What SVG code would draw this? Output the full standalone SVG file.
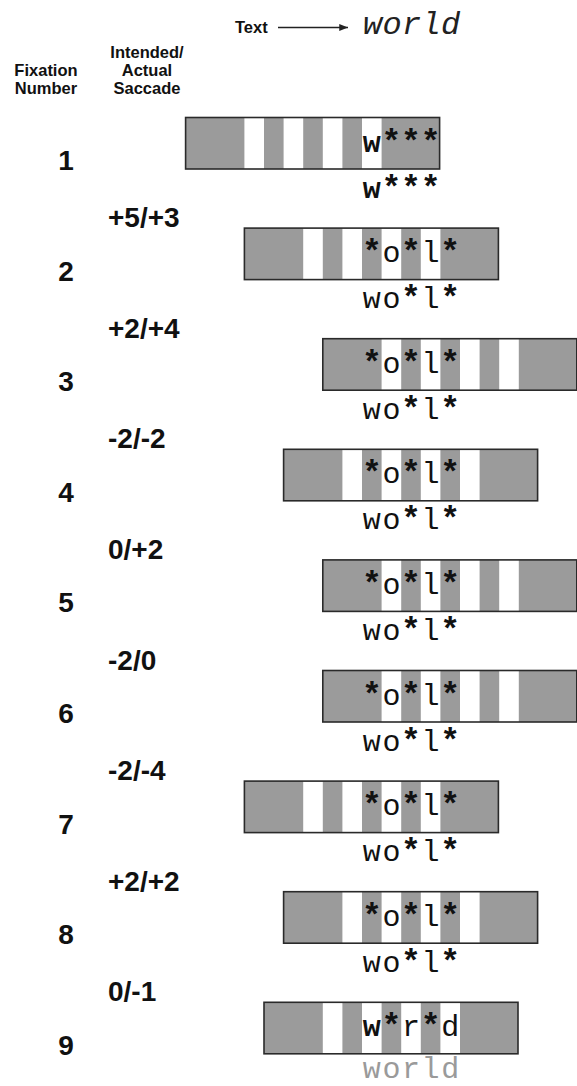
<svg xmlns="http://www.w3.org/2000/svg" xmlns:xlink="http://www.w3.org/1999/xlink" width="577" height="1086" viewBox="0 0 577 1086">
<style>
.h{font-family:"Liberation Sans",Arial,Helvetica,sans-serif;font-weight:bold;fill:#111}
.col{font-size:16.5px;text-anchor:middle}
.num{font-size:28px;text-anchor:middle}
.sac{font-size:28px}
.m{font-family:"Liberation Mono","Courier New",monospace;font-size:30px;fill:#111;text-anchor:middle}
.a{font-weight:bold;font-size:33px}
.b{font-weight:bold}
.gray{fill:#9a9a9a}
</style>
<defs>
<g id="panel">
<rect width="254" height="51.5" fill="#9b9b9b"/>
<rect x="58.8" width="19.6" height="51.5" fill="#fff"/>
<rect x="98" width="19.6" height="51.5" fill="#fff"/>
<rect x="137.2" width="19.6" height="51.5" fill="#fff"/>
<rect x="176.4" width="19.6" height="51.5" fill="#fff"/>
<rect width="254" height="51.5" fill="none" stroke="#2a2a2a" stroke-width="1.6"/>
</g>
<marker id="arr" viewBox="0 0 10 8" refX="10" refY="4" markerWidth="9" markerHeight="7" markerUnits="userSpaceOnUse" orient="auto">
<path d="M0,0 L10,4 L0,8 z" fill="#222"/>
</marker>
</defs>

<g id="header">
<text class="h" x="235" y="33" font-size="16.5">Text</text>
<text x="0" y="33.5" font-family="'Liberation Mono','Courier New',monospace" font-style="italic" font-size="32" fill="#222" text-anchor="middle"><tspan x="372.5">w</tspan><tspan x="392">o</tspan><tspan x="411.5">r</tspan><tspan x="431">l</tspan><tspan x="450.5">d</tspan></text>
</g>

<g id="connectors">
<line x1="278" y1="27.5" x2="348" y2="27.5" stroke="#222" stroke-width="1.3" marker-end="url(#arr)"/>
</g>

<g id="column-labels">
<text class="h col" x="46" y="76">Fixation</text>
<text class="h col" x="46" y="93.5">Number</text>
<text class="h col" x="147" y="57.5">Intended/</text>
<text class="h col" x="147" y="76">Actual</text>
<text class="h col" x="147" y="93.5">Saccade</text>
</g>

<g id="fixation-1" transform="translate(0,117.5)">
<use xlink:href="#panel" href="#panel" x="185.6"/>
<text class="m" y="34"><tspan x="371.8" class="b">w</tspan><tspan x="391.4" class="a">*</tspan><tspan x="411" class="a">*</tspan><tspan x="430.6" class="a">*</tspan></text>
<text class="m" y="80"><tspan x="371.8" class="b">w</tspan><tspan x="391.4" class="a">*</tspan><tspan x="411" class="a">*</tspan><tspan x="430.6" class="a">*</tspan></text>
<text class="h num" x="66" y="52.5">1</text>
</g>

<g id="fixation-2" transform="translate(0,228.1)">
<use xlink:href="#panel" href="#panel" x="244.4"/>
<text class="m" y="34"><tspan x="371.8" class="a">*</tspan><tspan x="391.4">o</tspan><tspan x="411" class="a">*</tspan><tspan x="430.6">l</tspan><tspan x="450.2" class="a">*</tspan></text>
<text class="m" y="80"><tspan x="371.8">w</tspan><tspan x="391.4">o</tspan><tspan x="411" class="a">*</tspan><tspan x="430.6">l</tspan><tspan x="450.2" class="a">*</tspan></text>
<text class="h num" x="66" y="52.5">2</text>
</g>

<g id="fixation-3" transform="translate(0,338.7)">
<use xlink:href="#panel" href="#panel" x="322.8"/>
<text class="m" y="34"><tspan x="371.8" class="a">*</tspan><tspan x="391.4">o</tspan><tspan x="411" class="a">*</tspan><tspan x="430.6">l</tspan><tspan x="450.2" class="a">*</tspan></text>
<text class="m" y="80"><tspan x="371.8">w</tspan><tspan x="391.4">o</tspan><tspan x="411" class="a">*</tspan><tspan x="430.6">l</tspan><tspan x="450.2" class="a">*</tspan></text>
<text class="h num" x="66" y="52.5">3</text>
</g>

<g id="fixation-4" transform="translate(0,449.3)">
<use xlink:href="#panel" href="#panel" x="283.6"/>
<text class="m" y="34"><tspan x="371.8" class="a">*</tspan><tspan x="391.4">o</tspan><tspan x="411" class="a">*</tspan><tspan x="430.6">l</tspan><tspan x="450.2" class="a">*</tspan></text>
<text class="m" y="80"><tspan x="371.8">w</tspan><tspan x="391.4">o</tspan><tspan x="411" class="a">*</tspan><tspan x="430.6">l</tspan><tspan x="450.2" class="a">*</tspan></text>
<text class="h num" x="66" y="52.5">4</text>
</g>

<g id="fixation-5" transform="translate(0,559.9)">
<use xlink:href="#panel" href="#panel" x="322.8"/>
<text class="m" y="34"><tspan x="371.8" class="a">*</tspan><tspan x="391.4">o</tspan><tspan x="411" class="a">*</tspan><tspan x="430.6">l</tspan><tspan x="450.2" class="a">*</tspan></text>
<text class="m" y="80"><tspan x="371.8">w</tspan><tspan x="391.4">o</tspan><tspan x="411" class="a">*</tspan><tspan x="430.6">l</tspan><tspan x="450.2" class="a">*</tspan></text>
<text class="h num" x="66" y="52.5">5</text>
</g>

<g id="fixation-6" transform="translate(0,670.5)">
<use xlink:href="#panel" href="#panel" x="322.8"/>
<text class="m" y="34"><tspan x="371.8" class="a">*</tspan><tspan x="391.4">o</tspan><tspan x="411" class="a">*</tspan><tspan x="430.6">l</tspan><tspan x="450.2" class="a">*</tspan></text>
<text class="m" y="80"><tspan x="371.8">w</tspan><tspan x="391.4">o</tspan><tspan x="411" class="a">*</tspan><tspan x="430.6">l</tspan><tspan x="450.2" class="a">*</tspan></text>
<text class="h num" x="66" y="52.5">6</text>
</g>

<g id="fixation-7" transform="translate(0,781.1)">
<use xlink:href="#panel" href="#panel" x="244.4"/>
<text class="m" y="34"><tspan x="371.8" class="a">*</tspan><tspan x="391.4">o</tspan><tspan x="411" class="a">*</tspan><tspan x="430.6">l</tspan><tspan x="450.2" class="a">*</tspan></text>
<text class="m" y="80"><tspan x="371.8">w</tspan><tspan x="391.4">o</tspan><tspan x="411" class="a">*</tspan><tspan x="430.6">l</tspan><tspan x="450.2" class="a">*</tspan></text>
<text class="h num" x="66" y="52.5">7</text>
</g>

<g id="fixation-8" transform="translate(0,891.7)">
<use xlink:href="#panel" href="#panel" x="283.6"/>
<text class="m" y="34"><tspan x="371.8" class="a">*</tspan><tspan x="391.4">o</tspan><tspan x="411" class="a">*</tspan><tspan x="430.6">l</tspan><tspan x="450.2" class="a">*</tspan></text>
<text class="m" y="80"><tspan x="371.8">w</tspan><tspan x="391.4">o</tspan><tspan x="411" class="a">*</tspan><tspan x="430.6">l</tspan><tspan x="450.2" class="a">*</tspan></text>
<text class="h num" x="66" y="52.5">8</text>
</g>

<g id="fixation-9" transform="translate(0,1002.3)">
<use xlink:href="#panel" href="#panel" x="264"/>
<text class="m" y="34"><tspan x="371.8" class="b">w</tspan><tspan x="391.4" class="a">*</tspan><tspan x="411">r</tspan><tspan x="430.6" class="a">*</tspan><tspan x="450.2">d</tspan></text>
<text class="m gray" y="75.5"><tspan x="371.8">w</tspan><tspan x="391.4">o</tspan><tspan x="411">r</tspan><tspan x="430.6">l</tspan><tspan x="450.2">d</tspan></text>
<text class="h num" x="66" y="52.5">9</text>
</g>

<g id="saccades">
<text class="h sac" x="108" y="227.1">+5/+3</text>
<text class="h sac" x="108" y="337.7">+2/+4</text>
<text class="h sac" x="108" y="448.3">-2/-2</text>
<text class="h sac" x="108" y="558.9">0/+2</text>
<text class="h sac" x="108" y="669.5">-2/0</text>
<text class="h sac" x="108" y="780.1">-2/-4</text>
<text class="h sac" x="108" y="890.7">+2/+2</text>
<text class="h sac" x="108" y="1001.3">0/-1</text>
</g>
</svg>
